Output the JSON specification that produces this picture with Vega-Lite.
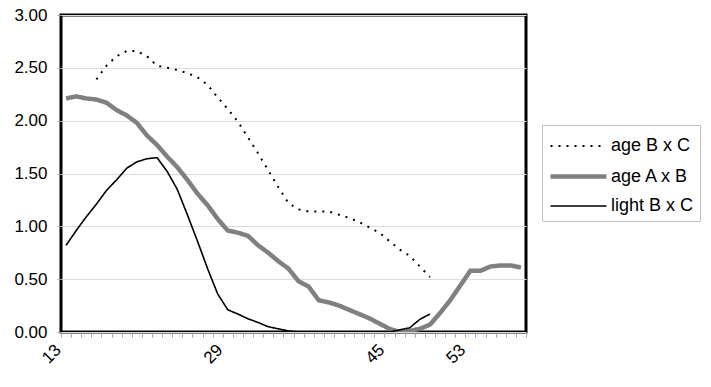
{
  "$schema": "https://vega.github.io/schema/vega-lite/v6.json",
  "autosize": "none",
  "padding": {"left": 61, "top": 15, "right": 185, "bottom": 55},
  "width": 465,
  "height": 317,
  "background": "white",
  "config": {
    "font": "Liberation Sans",
    "view": {"stroke": "black", "strokeWidth": 3}
  },
  "data": {"values": [
    {"s":"age B x C","x":16,"y":2.39},{"s":"age B x C","x":17,"y":2.52},{"s":"age B x C","x":18,"y":2.61},{"s":"age B x C","x":19,"y":2.66},{"s":"age B x C","x":20,"y":2.66},{"s":"age B x C","x":21,"y":2.61},{"s":"age B x C","x":22,"y":2.52},{"s":"age B x C","x":23,"y":2.50},{"s":"age B x C","x":24,"y":2.48},{"s":"age B x C","x":25,"y":2.45},{"s":"age B x C","x":26,"y":2.41},{"s":"age B x C","x":27,"y":2.34},{"s":"age B x C","x":28,"y":2.22},{"s":"age B x C","x":29,"y":2.11},{"s":"age B x C","x":30,"y":1.99},{"s":"age B x C","x":31,"y":1.84},{"s":"age B x C","x":32,"y":1.69},{"s":"age B x C","x":33,"y":1.53},{"s":"age B x C","x":34,"y":1.37},{"s":"age B x C","x":35,"y":1.22},{"s":"age B x C","x":36,"y":1.16},{"s":"age B x C","x":37,"y":1.14},{"s":"age B x C","x":38,"y":1.14},{"s":"age B x C","x":39,"y":1.14},{"s":"age B x C","x":40,"y":1.11},{"s":"age B x C","x":41,"y":1.08},{"s":"age B x C","x":42,"y":1.04},{"s":"age B x C","x":43,"y":0.99},{"s":"age B x C","x":44,"y":0.94},{"s":"age B x C","x":45,"y":0.86},{"s":"age B x C","x":46,"y":0.78},{"s":"age B x C","x":47,"y":0.72},{"s":"age B x C","x":48,"y":0.62},{"s":"age B x C","x":49,"y":0.52},
    {"s":"age A x B","x":13,"y":2.21},{"s":"age A x B","x":14,"y":2.23},{"s":"age A x B","x":15,"y":2.21},{"s":"age A x B","x":16,"y":2.20},{"s":"age A x B","x":17,"y":2.17},{"s":"age A x B","x":18,"y":2.10},{"s":"age A x B","x":19,"y":2.05},{"s":"age A x B","x":20,"y":1.98},{"s":"age A x B","x":21,"y":1.86},{"s":"age A x B","x":22,"y":1.77},{"s":"age A x B","x":23,"y":1.66},{"s":"age A x B","x":24,"y":1.56},{"s":"age A x B","x":25,"y":1.44},{"s":"age A x B","x":26,"y":1.31},{"s":"age A x B","x":27,"y":1.20},{"s":"age A x B","x":28,"y":1.07},{"s":"age A x B","x":29,"y":0.96},{"s":"age A x B","x":30,"y":0.94},{"s":"age A x B","x":31,"y":0.91},{"s":"age A x B","x":32,"y":0.82},{"s":"age A x B","x":33,"y":0.75},{"s":"age A x B","x":34,"y":0.67},{"s":"age A x B","x":35,"y":0.60},{"s":"age A x B","x":36,"y":0.48},{"s":"age A x B","x":37,"y":0.43},{"s":"age A x B","x":38,"y":0.30},{"s":"age A x B","x":39,"y":0.28},{"s":"age A x B","x":40,"y":0.25},{"s":"age A x B","x":41,"y":0.21},{"s":"age A x B","x":42,"y":0.17},{"s":"age A x B","x":43,"y":0.13},{"s":"age A x B","x":44,"y":0.08},{"s":"age A x B","x":45,"y":0.03},{"s":"age A x B","x":46,"y":0.0},{"s":"age A x B","x":47,"y":0.01},{"s":"age A x B","x":48,"y":0.03},{"s":"age A x B","x":49,"y":0.07},{"s":"age A x B","x":50,"y":0.18},{"s":"age A x B","x":51,"y":0.30},{"s":"age A x B","x":52,"y":0.44},{"s":"age A x B","x":53,"y":0.58},{"s":"age A x B","x":54,"y":0.58},{"s":"age A x B","x":55,"y":0.62},{"s":"age A x B","x":56,"y":0.63},{"s":"age A x B","x":57,"y":0.63},{"s":"age A x B","x":58,"y":0.61},
    {"s":"light B x C","x":13,"y":0.82},{"s":"light B x C","x":14,"y":0.96},{"s":"light B x C","x":15,"y":1.09},{"s":"light B x C","x":16,"y":1.21},{"s":"light B x C","x":17,"y":1.34},{"s":"light B x C","x":18,"y":1.44},{"s":"light B x C","x":19,"y":1.55},{"s":"light B x C","x":20,"y":1.61},{"s":"light B x C","x":21,"y":1.64},{"s":"light B x C","x":22,"y":1.65},{"s":"light B x C","x":23,"y":1.52},{"s":"light B x C","x":24,"y":1.35},{"s":"light B x C","x":25,"y":1.11},{"s":"light B x C","x":26,"y":0.86},{"s":"light B x C","x":27,"y":0.60},{"s":"light B x C","x":28,"y":0.36},{"s":"light B x C","x":29,"y":0.21},{"s":"light B x C","x":30,"y":0.17},{"s":"light B x C","x":31,"y":0.125},{"s":"light B x C","x":32,"y":0.09},{"s":"light B x C","x":33,"y":0.05},{"s":"light B x C","x":34,"y":0.03},{"s":"light B x C","x":35,"y":0.01},{"s":"light B x C","x":36,"y":0},{"s":"light B x C","x":37,"y":0},{"s":"light B x C","x":38,"y":0},{"s":"light B x C","x":39,"y":0},{"s":"light B x C","x":40,"y":0},{"s":"light B x C","x":41,"y":0},{"s":"light B x C","x":42,"y":0},{"s":"light B x C","x":43,"y":0},{"s":"light B x C","x":44,"y":0},{"s":"light B x C","x":45,"y":0},{"s":"light B x C","x":46,"y":0.02},{"s":"light B x C","x":47,"y":0.04},{"s":"light B x C","x":48,"y":0.12},{"s":"light B x C","x":49,"y":0.17}
  ]},
  "mark": {"type": "line", "clip": true},
  "encoding": {
    "x": {
      "field": "x", "type": "quantitative",
      "scale": {"domain": [12.5, 58.5], "nice": false, "zero": false},
      "axis": {
        "title": null, "grid": false, "domain": false,
        "values": [12.5,13.5,14.5,15.5,16.5,17.5,18.5,19.5,20.5,21.5,22.5,23.5,24.5,25.5,26.5,27.5,28.5,29.5,30.5,31.5,32.5,33.5,34.5,35.5,36.5,37.5,38.5,39.5,40.5,41.5,42.5,43.5,44.5,45.5,46.5,47.5,48.5,49.5,50.5,51.5,52.5,53.5,54.5,55.5,56.5,57.5,58.5],
        "labelExpr": "indexof([12.5,28.5,44.5,52.5], datum.value) >= 0 ? format(datum.value + 0.5, 'd') : ''",
        "labelAngle": -45, "labelAlign": "right", "labelBaseline": "middle",
        "labelOffset": -3, "labelPadding": 10, "labelFontSize": 17, "labelColor": "black",
        "labelOverlap": false, "labelFlush": false,
        "tickColor": "#a6a6a6", "tickSize": 5, "tickWidth": 1
      }
    },
    "y": {
      "field": "y", "type": "quantitative",
      "scale": {"domain": [0, 3], "nice": false},
      "axis": {
        "title": null, "domain": false,
        "values": [0, 0.5, 1, 1.5, 2, 2.5, 3],
        "format": ".2f", "labelFontSize": 17, "labelColor": "black", "labelPadding": 10,
        "gridColor": "#dcdcdc", "gridWidth": 1,
        "tickColor": "#a6a6a6", "tickSize": 4
      }
    },
    "color": {
      "field": "s", "type": "nominal",
      "scale": {"domain": ["age B x C", "age A x B", "light B x C"], "range": ["black", "#808080", "black"]},
      "legend": {
        "title": null, "orient": "none", "legendX": 481, "legendY": 110,
        "symbolType": "M-2,0H2", "symbolSize": 784, "symbolOffset": 14,
        "labelFontSize": 18, "labelColor": "black",
        "strokeColor": "#bfbfbf", "fillColor": "white", "padding": 6, "rowPadding": 5, "labelOffset": 16
      }
    },
    "strokeDash": {
      "field": "s", "type": "nominal",
      "scale": {"domain": ["age B x C", "age A x B", "light B x C"], "range": [[2, 6], [1, 0], [1, 0]]},
      "legend": null
    },
    "strokeWidth": {
      "field": "s", "type": "nominal",
      "scale": {"type": "ordinal", "domain": ["age B x C", "age A x B", "light B x C"], "range": [2, 4.5, 1.6]},
      "legend": null
    }
  }
}
